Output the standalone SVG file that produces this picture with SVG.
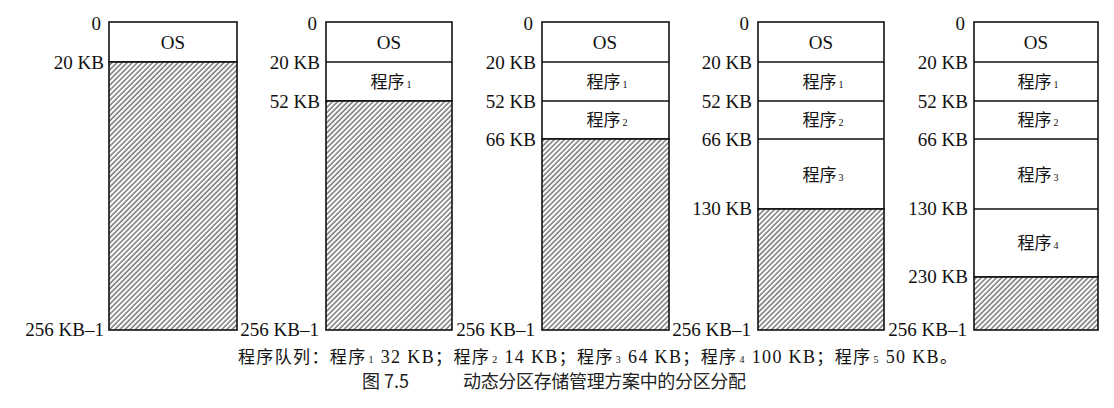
<svg xmlns="http://www.w3.org/2000/svg" width="1114" height="408" viewBox="0 0 1114 408">
<defs>
<pattern id="hatch" patternUnits="userSpaceOnUse" width="3.6" height="10" patternTransform="rotate(45)">
<rect x="0" y="0" width="3.6" height="10" fill="#fff"/>
<line x1="1" y1="0" x2="1" y2="10" stroke="#333" stroke-width="1"/>
</pattern>
</defs>
<style>
.box{fill:#fff;stroke:#111;stroke-width:1.6}
.hat{fill:url(#hatch);stroke:#111;stroke-width:1.6}
.div{stroke:#111;stroke-width:1.6}
.lbl{font-family:"Liberation Serif","Times New Roman",serif;font-size:19px;fill:#111;text-anchor:end}
.os{font-family:"Liberation Serif","Times New Roman",serif;font-size:19px;fill:#111;text-anchor:middle}
.prog{font-family:"Liberation Serif","Noto Sans CJK SC",serif;font-size:17px;fill:#111;text-anchor:middle}
.cj{font-family:"Noto Sans CJK SC",sans-serif}
.sub{font-family:"Liberation Serif",serif;font-size:10px}
.queue{font-family:"Liberation Serif","Noto Sans CJK SC",serif;font-size:18px;fill:#111}
.qc{font-family:"Noto Sans CJK SC",sans-serif;font-size:17px}
.cap{font-family:"Noto Sans CJK SC","Liberation Sans",sans-serif;font-size:18px;fill:#222}
</style>

<g id="col1">
<rect class="box" x="109" y="22" width="128" height="40"/>
<rect class="hat" x="109" y="62" width="128" height="268"/>
<text class="os" x="173" y="49">OS</text>
<text class="lbl" x="101" y="30">0</text>
<text class="lbl" x="104" y="69">20 KB</text>
<text class="lbl" x="104" y="336">256 KB–1</text>
</g>

<g id="col2">
<rect class="box" x="326" y="22" width="126" height="79"/>
<rect class="hat" x="326" y="101" width="126" height="229"/>
<line class="div" x1="326" y1="62" x2="452" y2="62"/>
<text class="os" x="389" y="49">OS</text>
<text class="prog" x="391" y="88"><tspan class="cj">程序</tspan><tspan class="sub" dx="2">1</tspan></text>
<text class="lbl" x="317" y="30">0</text>
<text class="lbl" x="320" y="69">20 KB</text>
<text class="lbl" x="320" y="108">52 KB</text>
<text class="lbl" x="319" y="336">256 KB–1</text>
</g>

<g id="col3">
<rect class="box" x="542" y="22" width="127" height="117"/>
<rect class="hat" x="542" y="139" width="127" height="191"/>
<line class="div" x1="542" y1="62" x2="669" y2="62"/>
<line class="div" x1="542" y1="101" x2="669" y2="101"/>
<text class="os" x="605" y="49">OS</text>
<text class="prog" x="607" y="88"><tspan class="cj">程序</tspan><tspan class="sub" dx="2">1</tspan></text>
<text class="prog" x="607" y="126"><tspan class="cj">程序</tspan><tspan class="sub" dx="2">2</tspan></text>
<text class="lbl" x="533" y="30">0</text>
<text class="lbl" x="536" y="69">20 KB</text>
<text class="lbl" x="536" y="108">52 KB</text>
<text class="lbl" x="536" y="146">66 KB</text>
<text class="lbl" x="535" y="336">256 KB–1</text>
</g>

<g id="col4">
<rect class="box" x="758" y="22" width="126" height="187"/>
<rect class="hat" x="758" y="209" width="126" height="121"/>
<line class="div" x1="758" y1="62" x2="884" y2="62"/>
<line class="div" x1="758" y1="101" x2="884" y2="101"/>
<line class="div" x1="758" y1="139" x2="884" y2="139"/>
<text class="os" x="821" y="49">OS</text>
<text class="prog" x="823" y="88"><tspan class="cj">程序</tspan><tspan class="sub" dx="2">1</tspan></text>
<text class="prog" x="823" y="126"><tspan class="cj">程序</tspan><tspan class="sub" dx="2">2</tspan></text>
<text class="prog" x="823" y="181"><tspan class="cj">程序</tspan><tspan class="sub" dx="2">3</tspan></text>
<text class="lbl" x="749" y="30">0</text>
<text class="lbl" x="752" y="69">20 KB</text>
<text class="lbl" x="752" y="108">52 KB</text>
<text class="lbl" x="752" y="146">66 KB</text>
<text class="lbl" x="752" y="215">130 KB</text>
<text class="lbl" x="751" y="336">256 KB–1</text>
</g>

<g id="col5">
<rect class="box" x="974" y="22" width="124" height="255"/>
<rect class="hat" x="974" y="277" width="124" height="53"/>
<line class="div" x1="974" y1="62" x2="1098" y2="62"/>
<line class="div" x1="974" y1="101" x2="1098" y2="101"/>
<line class="div" x1="974" y1="139" x2="1098" y2="139"/>
<line class="div" x1="974" y1="209" x2="1098" y2="209"/>
<text class="os" x="1036" y="49">OS</text>
<text class="prog" x="1038" y="88"><tspan class="cj">程序</tspan><tspan class="sub" dx="2">1</tspan></text>
<text class="prog" x="1038" y="126"><tspan class="cj">程序</tspan><tspan class="sub" dx="2">2</tspan></text>
<text class="prog" x="1038" y="181"><tspan class="cj">程序</tspan><tspan class="sub" dx="2">3</tspan></text>
<text class="prog" x="1038" y="249"><tspan class="cj">程序</tspan><tspan class="sub" dx="2">4</tspan></text>
<text class="lbl" x="965" y="30">0</text>
<text class="lbl" x="968" y="69">20 KB</text>
<text class="lbl" x="968" y="108">52 KB</text>
<text class="lbl" x="968" y="146">66 KB</text>
<text class="lbl" x="968" y="215">130 KB</text>
<text class="lbl" x="968" y="283">230 KB</text>
<text class="lbl" x="967" y="336">256 KB–1</text>
</g>

<g id="connectors"></g>

<g id="queue">
<text class="queue" x="238" y="363" textLength="719" lengthAdjust="spacing"><tspan class="qc">程序队列：程序</tspan><tspan class="sub" dx="2">1</tspan><tspan> 32 KB</tspan><tspan class="qc">；程序</tspan><tspan class="sub" dx="2">2</tspan><tspan> 14 KB</tspan><tspan class="qc">；程序</tspan><tspan class="sub" dx="2">3</tspan><tspan> 64 KB</tspan><tspan class="qc">；程序</tspan><tspan class="sub" dx="2">4</tspan><tspan> 100 KB</tspan><tspan class="qc">；程序</tspan><tspan class="sub" dx="2">5</tspan><tspan>  50 KB</tspan><tspan class="qc">。</tspan></text>
</g>

<g id="caption">
<text class="cap" x="362" y="388">图 7.5</text>
<text class="cap" x="463" y="388" textLength="283" lengthAdjust="spacing">动态分区存储管理方案中的分区分配</text>
</g>
</svg>
